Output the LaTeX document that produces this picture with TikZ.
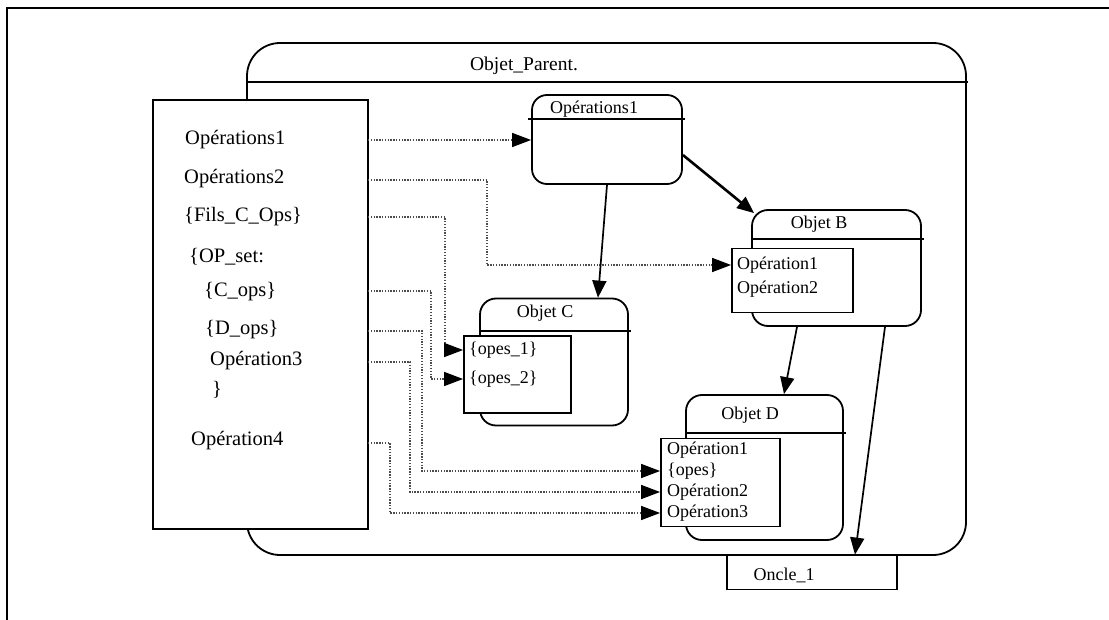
\documentclass[tikz,border=0pt]{standalone}
\usepackage{fontspec}
\setmainfont{Liberation Serif}
\usetikzlibrary{arrows.meta,calc}
\begin{document}
\begin{tikzpicture}[x=1pt,y=-1pt,
  box/.style={draw,line width=1.8pt,inner sep=0pt,fill=white},
  rbox/.style={box,rounded corners=16pt},
  hline/.style={line width=1.8pt},
  big/.style={font=\fontsize{20.5}{23}\selectfont,inner sep=0pt,anchor=west},
  small/.style={font=\fontsize{18}{20}\selectfont,inner sep=0pt},
  smallw/.style={small,anchor=west},
  arr/.style={line width=1.7pt,-{Triangle[length=17pt,width=14pt]}},
  arrthick/.style={arr,line width=2.6pt},
  dot/.style={draw=black!70,line width=1.4pt,dash pattern=on 1.3pt off 1.5pt,
    -{Triangle[length=19pt,width=14pt,color=black]}},
]
\useasboundingbox (0,0) rectangle (1109,620);
% outer frame
\draw[line width=1.8pt] (7,620) -- (7,8) -- (1109,8);

% parent object
\node[rbox,rounded corners=33pt,minimum width=719pt,minimum height=512pt] (parent) at (606.5,299) {};
\coordinate (hp) at (0,82);
\draw[hline] (parent.west |- hp) -- ($(parent.east |- hp)+(1,0)$);
\node[font=\fontsize{19.5}{22}\selectfont,inner sep=0pt] (ptitle) at (524,66) {Objet\_Parent.};

% left box
\node[box,minimum width=215pt,minimum height=429pt] (left) at (260.5,314.5) {};
\node[big] (t1) at (185,140) {Opérations1};
\node[big] (t2) at (184,179) {Opérations2};
\node[big] (t3) at (184,217) {\{Fils\_C\_Ops\}};
\node[big] (t4) at (189,257) {\{OP\_set:};
\node[big] (t5) at (204,292) {\{C\_ops\}};
\node[big] (t6) at (205,330) {\{D\_ops\}};
\node[big] (t7) at (210,361) {Opération3};
\node[big] (t8) at (212,390) {\}};
\node[big] (t9) at (191,441) {Opération4};

% oncle
\node[box,minimum width=170pt,minimum height=34pt] (oncle) at (812,572.5) {};
\node[small] (toncle) at (784,575) {Oncle\_1};

% Operations1 box
\node[rbox,minimum width=150pt,minimum height=89pt,rounded corners=15pt] (ops) at (607,139.5) {};
\coordinate (hops) at (0,119);
\draw[hline] ($(ops.west |- hops)+(-3,0)$) -- ($(ops.east |- hops)+(2,0)$);
\node[small] (tops) at (594,109) {Opérations1};

% Objet B
\node[rbox,minimum width=169pt,minimum height=116pt] (objB) at (836.5,268) {};
\coordinate (hB) at (0,239);
\draw[hline] (objB.west |- hB) -- ($(objB.east |- hB)+(2,0)$);
\node[small] (tB) at (819,224) {Objet B};
\node[box,minimum width=121pt,minimum height=64pt] (Binner) at (792.5,280.5) {};
\node[smallw] (tB1) at (737,265) {Opération1};
\node[smallw] (tB2) at (737,289) {Opération2};

% Objet C
\node[rbox,minimum width=148pt,minimum height=127pt] (objC) at (554,362) {};
\coordinate (hC) at (0,331);
\draw[hline] (objC.west |- hC) -- ($(objC.east |- hC)+(2,0)$);
\node[small] (tC) at (545,313) {Objet C};
\node[box,minimum width=107pt,minimum height=77pt] (Cinner) at (517.5,374.5) {};
\node[smallw] (tC1) at (469,350) {\{opes\_1\}};
\node[smallw] (tC2) at (469,379) {\{opes\_2\}};

% Objet D
\node[rbox,minimum width=157pt,minimum height=145pt] (objD) at (764.5,467.5) {};
\coordinate (hD) at (0,433);
\draw[hline] (objD.west |- hD) -- ($(objD.east |- hD)+(2,0)$);
\node[small] (tD) at (750,415) {Objet D};
\node[box,minimum width=119pt,minimum height=88pt] (Dinner) at (720.5,482.5) {};
\node[smallw] (tD1) at (667,450) {Opération1};
\node[smallw] (tD2) at (667,471) {\{opes\}};
\node[smallw] (tD3) at (667,492) {Opération2};
\node[smallw] (tD4) at (667,513) {Opération3};

% dotted connectors
\coordinate (l1) at (368,140);
\coordinate (l2) at (368,180);
\coordinate (l3) at (368,217);
\coordinate (l4) at (368,291);
\coordinate (l5) at (368,331);
\coordinate (l6) at (368,362);
\coordinate (l7) at (368,443);
\coordinate (b1) at (Binner.west |- tB1);
\coordinate (c1) at (Cinner.west |- tC1);
\coordinate (c2) at (Cinner.west |- tC2);
\coordinate (d2) at (Dinner.west |- tD2);
\coordinate (d3) at (Dinner.west |- tD3);
\coordinate (d4) at (Dinner.west |- tD4);
\draw[dot] (l1) -- (ops.west |- l1);
\draw[dot] (l2) -- ++(119,0) |- (b1);
\draw[dot] (l3) -- ++(77,0) |- (c1);
\draw[dot] (l4) -- ++(63,0) |- (c2);
\draw[dot] (l5) -- ++(54,0) |- (d2);
\draw[dot] (l6) -- ++(42,0) |- (d3);
\draw[dot] (l7) -- ++(22,0) |- (d4);

% solid arrows
\draw[arr] (ops.south) -- ($(objC.north)+(44,0)$);
\draw[arrthick] ($(ops.east)+(0,15.5)$) -- ($(objB.north west)+(3,4)$);
\draw[arr] ($(objB.south)+(-39.5,0)$) -- ($(objD.north)+(19.5,0)$);
\draw[arr] ($(objB.south)+(48.5,0)$) -- ($(oncle.north)+(43,0)$);
\end{tikzpicture}
\end{document}
